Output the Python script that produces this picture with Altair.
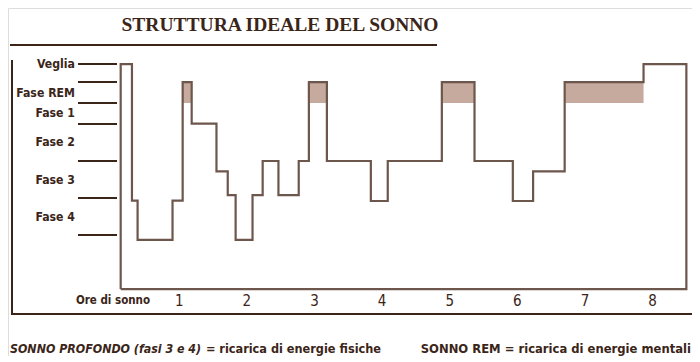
import altair as alt
import pandas as pd

# ---- data ----
# segment boundaries (minutes from lights-off) and depth level of each segment
seg_times = [8, 18, 23, 54, 63, 71, 93, 103, 110, 125, 134, 148, 166, 175,
             191, 230, 245, 293, 322, 356, 374, 402, 472, 510]
seg_depth = [0, 7.3, 9.4, 7.3, 0.96, 3.18, 5.74, 7.0, 9.4, 7.0, 5.18, 7.0,
             5.18, 0.96, 5.18, 7.32, 5.18, 0.96, 5.18, 7.32, 5.74, 0.96, 0]
floor_depth = 12.03
rem_depth = 0.96
rem_band = [0.96, 2.08]

stage_bounds = [0, 0.96, 2.08, 3.2, 5.18, 7.16, 9.14]
stage_labels = ["Veglia", "Fase REM", "Fase 1", "Fase 2", "Fase 3", "Fase 4"]

hours = [1, 2, 3, 4, 5, 6, 7, 8]

INK = "#3b2519"
LINE = "#6d564b"
FILL = "#c5aa9d"
SANS = "Liberation Sans Narrow, Arial Narrow, DejaVu Sans Condensed, Roboto, sans-serif"
SERIF = "Liberation Serif, Times New Roman, DejaVu Serif, serif"

# ---- derived tables ----
pts = [(seg_times[0], floor_depth)]
for i, d in enumerate(seg_depth):
    pts.append((seg_times[i], d))
    pts.append((seg_times[i + 1], d))
pts.append((seg_times[-1], floor_depth))
pts.append((seg_times[0], floor_depth))
path = pd.DataFrame({"t": [p[0] for p in pts], "d": [p[1] for p in pts],
                     "o": list(range(len(pts)))})

rem = pd.DataFrame([
    {"t": seg_times[i], "t2": seg_times[i + 1], "d": rem_band[0], "d2": rem_band[1]}
    for i, d in enumerate(seg_depth) if d == rem_depth
])

ticks = pd.DataFrame({"d": stage_bounds})
lab_d = [stage_bounds[0]] + [(stage_bounds[i] + stage_bounds[i + 1]) / 2
                              for i in range(1, len(stage_bounds) - 1)]
labels = pd.DataFrame({"d": lab_d, "label": stage_labels})
hrs = pd.DataFrame({"t": [h * 60 for h in hours], "label": [str(h) for h in hours]})

W, H = 684, 348
xs = alt.Scale(domain=[-92, 515], nice=False, zero=False)
ys = alt.Scale(domain=[-3, 15.607], nice=False, zero=False, reverse=True)
X = lambda f="t": alt.X(f"{f}:Q", scale=xs, axis=None)
Y = lambda f="d": alt.Y(f"{f}:Q", scale=ys, axis=None)

rem_layer = alt.Chart(rem).mark_rect(color=FILL).encode(
    x=X(), x2="t2:Q", y=Y(), y2="d2:Q")

line_layer = alt.Chart(path).mark_line(color=LINE, strokeWidth=2.2,
                                       strokeJoin="miter").encode(
    x=X(), y=Y(), order="o:Q")

tick_layer = alt.Chart(ticks).mark_rule(color=INK, strokeWidth=2).encode(
    y=Y(), x=alt.value(70), x2=alt.value(109))

label_layer = alt.Chart(labels).mark_text(
    align="right", baseline="middle", font=SANS, fontSize=12.2,
    fontWeight="bold", color=INK).encode(
    y=Y(), x=alt.value(67), text="label:N")

hour_layer = alt.Chart(hrs).mark_text(
    align="center", baseline="middle", font=SANS, fontSize=15,
    color=INK).encode(x=X(), y=alt.value(293), text="label:N")

one = pd.DataFrame({"k": [0]})
ore = alt.Chart(one).mark_text(
    text="Ore di sonno", align="center", baseline="middle", font=SANS,
    fontSize=11.5, fontWeight="bold", color=INK).encode(
    x=alt.value(105), y=alt.value(293))

frame_v = alt.Chart(one).mark_rule(color=INK, strokeWidth=2).encode(
    x=alt.value(4), y=alt.value(52), y2=alt.value(306))
frame_h = alt.Chart(one).mark_rule(color=INK, strokeWidth=2).encode(
    x=alt.value(3), x2=alt.value(684), y=alt.value(306))
title_rule = alt.Chart(one).mark_rule(color=INK, strokeWidth=2).encode(
    x=alt.value(2), x2=alt.value(429), y=alt.value(37))
title = alt.Chart(one).mark_text(
    text="STRUTTURA IDEALE DEL SONNO", align="center", baseline="middle",
    font=SERIF, fontSize=19.5, fontWeight="bold", color=INK).encode(
    x=alt.value(272), y=alt.value(17))

foot1 = alt.Chart(one).mark_text(
    text="SONNO PROFONDO (fasi 3 e 4)", align="left", baseline="middle",
    font=SANS, fontSize=12.3, fontWeight="bold", fontStyle="italic",
    color=INK).encode(x=alt.value(2), y=alt.value(341))
foot2 = alt.Chart(one).mark_text(
    text="= ricarica di energie fisiche", align="right", baseline="middle",
    font=SANS, fontSize=12.6, fontWeight="bold", color=INK).encode(
    x=alt.value(373), y=alt.value(341))
foot3 = alt.Chart(one).mark_text(
    text="SONNO REM = ricarica di energie mentali", align="right",
    baseline="middle", font=SANS, fontSize=12.9, fontWeight="bold",
    color=INK).encode(x=alt.value(683), y=alt.value(341))

chart = alt.layer(
    rem_layer, line_layer, tick_layer, label_layer, hour_layer, ore,
    frame_v, frame_h, title_rule, title, foot1, foot2, foot3
).properties(
    width=W, height=H, autosize=alt.AutoSizeParams(type="none"), padding=0
).configure_view(stroke=None).configure(background="white")

chart.save("out.html", embed_options={"renderer": "svg", "actions": False})
